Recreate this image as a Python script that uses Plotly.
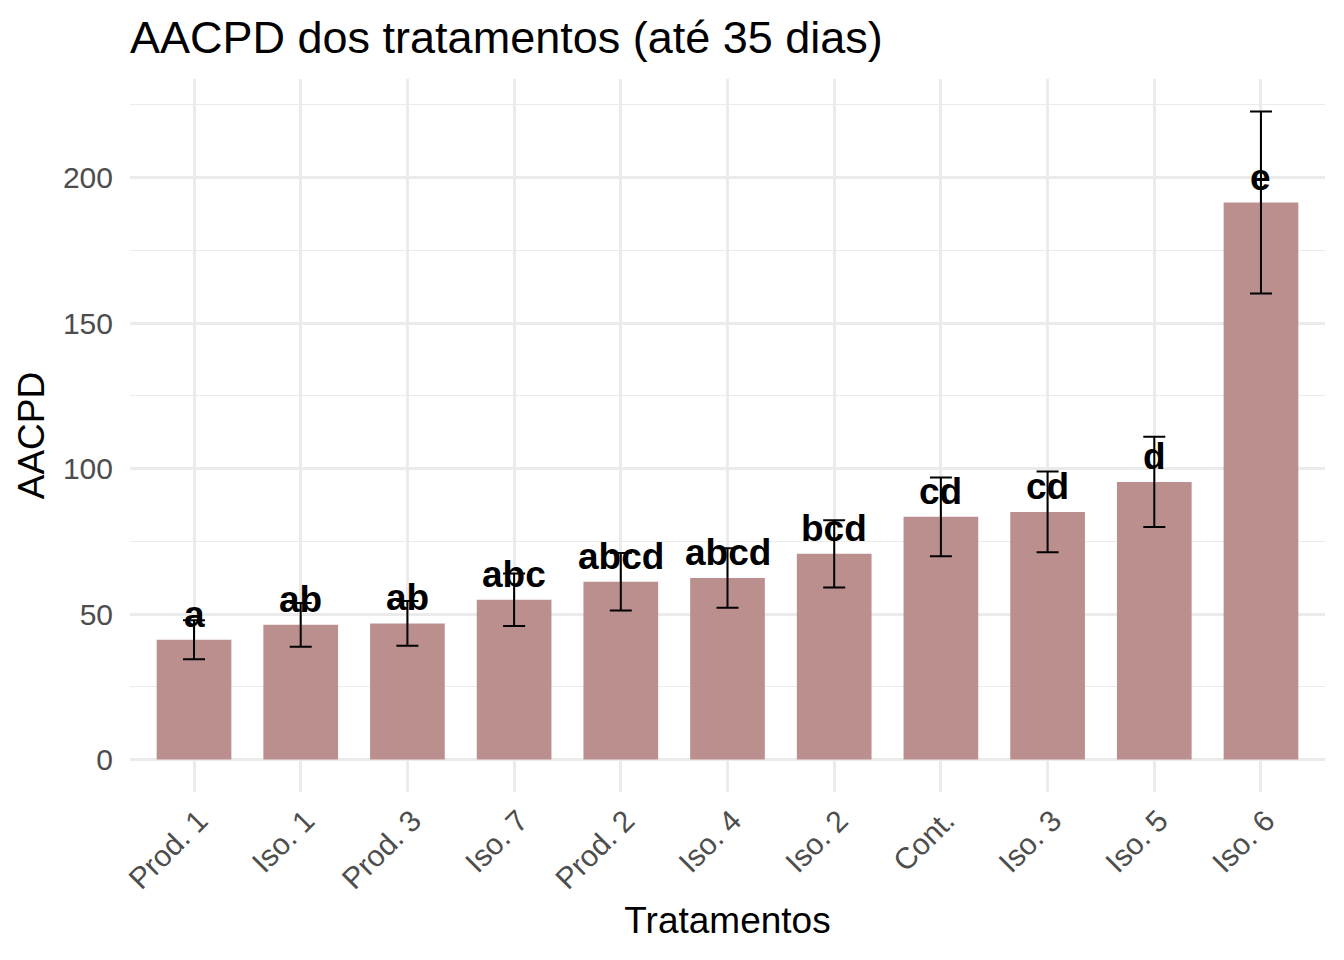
import plotly.graph_objects as go

categories = ["Prod. 1", "Iso. 1", "Prod. 3", "Iso. 7", "Prod. 2", "Iso. 4",
              "Iso. 2", "Cont.", "Iso. 3", "Iso. 5", "Iso. 6"]
means = [41.2, 46.3, 46.8, 54.9, 61.1, 62.4, 70.7, 83.4, 85.1, 95.4, 191.4]
sds = [6.7, 7.5, 7.65, 9.0, 9.85, 10.25, 11.55, 13.55, 13.9, 15.5, 31.3]
letters = ["a", "ab", "ab", "abc", "abcd", "abcd", "bcd", "cd", "cd", "d", "e"]
y_ticks = [0, 50, 100, 150, 200]

FONT = "Liberation Sans, Arial, sans-serif"
GRID = "#EBEBEB"
W, H = 1328, 944  # page body has an 8px margin

fig = go.Figure()
fig.add_trace(go.Bar(
    x=categories, y=means, width=0.7,
    marker=dict(color="#BC8F8F", line=dict(width=0)),
    error_y=dict(type="data", array=sds, visible=True,
                 color="black", thickness=2, width=11),
    hoverinfo="x+y",
))

for c, m, l in zip(categories, means, letters):
    fig.add_annotation(x=c, y=m, text=l, showarrow=False, xref="x", yref="y",
                       yanchor="bottom", yshift=3,
                       font=dict(family=FONT, size=37, color="black", weight="bold"))

top = max(m + s for m, s in zip(means, sds))
ymin = -0.05 * top
ymax = top * 1.05

fig.update_layout(
    width=W, height=H,
    paper_bgcolor="white", plot_bgcolor="white",
    margin=dict(l=122, r=11, t=71, b=160, autoexpand=False),
    showlegend=False,
    font=dict(family=FONT, color="black"),
    title=dict(text="AACPD dos tratamentos (até 35 dias)", x=122/W, xref="container",
               xanchor="left", y=1 - 29/H, yref="container", yanchor="middle",
               font=dict(family=FONT, size=45, color="black")),
    bargap=0.3,
)
fig.update_xaxes(
    type="category", range=[-0.6, len(categories) - 0.4],
    showgrid=True, gridcolor=GRID, gridwidth=2.7,
    showline=False, zeroline=False,
    ticks="", tickangle=-45, tickfont=dict(family=FONT, size=30, color="#4D4D4D"),
    ticklabelshift=5, ticklabelstandoff=4,
    title=dict(text="Tratamentos", standoff=12, font=dict(family=FONT, size=37, color="black")),
    automargin=False,
)
fig.update_yaxes(
    range=[ymin, ymax], tickvals=y_ticks, ticktext=[str(v) for v in y_ticks],
    showgrid=True, gridcolor=GRID, gridwidth=2.7,
    minor=dict(dtick=25, tick0=0, showgrid=True, gridcolor=GRID, gridwidth=1.4, ticks=""),
    showline=False, zeroline=False,
    ticks="outside", ticklen=10, tickcolor="rgba(0,0,0,0)",
    tickfont=dict(family=FONT, size=30, color="#4D4D4D"),
    title=dict(text="AACPD", standoff=6, font=dict(family=FONT, size=37, color="black")),
    automargin=False,
)

fig.write_html("out.html")
